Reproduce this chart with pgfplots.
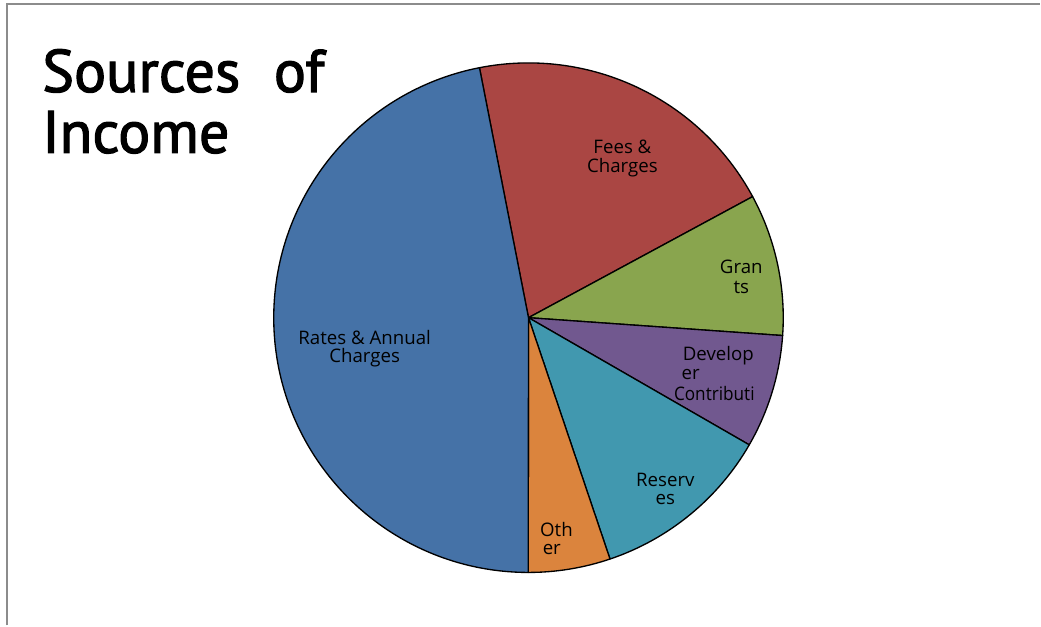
\documentclass[border=0pt]{standalone}
\usepackage{pgfplots}
\usepackage{pgfplotstable}
\pgfplotsset{compat=1.18}
\usepackage{fontspec}
\setmainfont{Open Sans}
\newfontfamily\titlefont[FakeBold=2]{PT Sans}
\definecolor{slice0}{HTML}{AA4643}
\definecolor{slice1}{HTML}{89A54E}
\definecolor{slice2}{HTML}{71588F}
\definecolor{slice3}{HTML}{4198AF}
\definecolor{slice4}{HTML}{DB843D}
\definecolor{slice5}{HTML}{4572A7}
\definecolor{framegray}{HTML}{8C8C8C}

% share of income (percent), clockwise from the Fees/Rates boundary
\pgfplotstableread[col sep=comma]{
label,value
Fees & Charges,20.2
Grants,9.0
Developer Contributions,7.2
Reserves,11.5
Other,5.2
Rates & Annual Charges,46.9
}\piedata

\begin{document}
\begin{tikzpicture}
\begin{axis}[
  hide axis,
  x=0.75pt, y=0.75pt,
  xmin=0, xmax=1041, ymin=0, ymax=626,
  scale only axis,
  clip=false,
]
\path (axis cs:0,0) rectangle (axis cs:1041,626);
\pgfplotstablegetrowsof{\piedata}
\pgfmathtruncatemacro\lastrow{\pgfplotsretval-1}
\def\curangle{101.1}
\pgfplotsforeachungrouped \i in {0,...,\lastrow}{%
  \pgfplotstablegetelem{\i}{value}\of\piedata
  \let\val\pgfplotsretval
  \pgfmathsetmacro\endangle{\curangle-3.6*\val}%
  \pgfmathsetmacro\sx{529+255*cos(\curangle)}%
  \pgfmathsetmacro\sy{308+255*sin(\curangle)}%
  \edef\cmd{\noexpand\filldraw[fill=slice\i, draw=black, line width=1pt, line join=round]
    (axis cs:529,308) -- (axis cs:\sx,\sy)
    arc[start angle=\curangle, end angle=\endangle, radius=191.25pt] -- cycle;}%
  \cmd
  \global\let\curangle\endangle
}
% frame
\draw[framegray, line width=1.5pt] (axis cs:7,0) -- (axis cs:7,621.5) -- (axis cs:1041,621.5);
% title
\node[anchor=base west, font=\titlefont\fontsize{45}{50}\selectfont, inner sep=0pt] at (axis cs:42,534) {Sources};
\node[anchor=base east, font=\titlefont\fontsize{45}{50}\selectfont, inner sep=0pt] at (axis cs:325,534) {of};
\node[anchor=base west, font=\titlefont\fontsize{45}{50}\selectfont, inner sep=0pt] at (axis cs:42,473) {Income};
% slice labels
\begin{scope}[every node/.style={font=\fontsize{14}{16}\selectfont, inner sep=0pt, text=black}]
\node at (axis cs:365,288) {Rates \& Annual};
\node at (axis cs:365,268) {Charges};
\node at (axis cs:623,479) {Fees \&};
\node at (axis cs:623,458) {Charges};
\node at (axis cs:742,359) {Gran};
\node at (axis cs:742,338) {ts};
\node at (axis cs:719,270) {Develop};
\node[anchor=west] at (axis cs:682,251) {er};
\node[xscale=0.92] at (axis cs:715,232) {Contributi};
\node at (axis cs:666,146) {Reserv};
\node at (axis cs:666,126) {es};
\node at (axis cs:557,96) {Oth};
\node[anchor=west] at (axis cs:543,76) {er};
\end{scope}
\end{axis}
\end{tikzpicture}
\end{document}
